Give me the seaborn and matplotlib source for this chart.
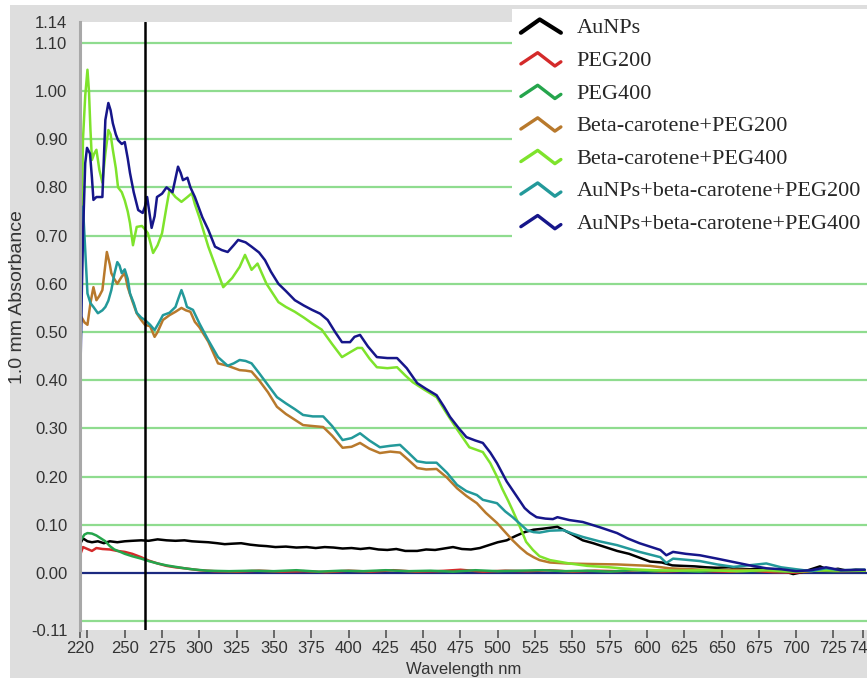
import numpy as np
import pandas as pd
import matplotlib
matplotlib.use("Agg")
import matplotlib.pyplot as plt
from matplotlib.lines import Line2D
from matplotlib.patches import Rectangle
from matplotlib.legend_handler import HandlerLine2D
import seaborn as sns

# ---------------- spectra (wavelength in nm, absorbance for 1.0 mm path) ----------------
aunps_wl = [220, 222, 225, 228, 232, 236, 240, 245, 250, 255, 261, 266, 272, 278, 284, 290, 295, 300,
            306, 312, 317, 322, 328, 334, 340, 345, 351, 358, 365, 372, 378, 384, 390, 396, 402, 408,
            414, 420, 426, 432, 438, 446, 452, 458, 464, 470, 476, 482, 488, 494, 500, 506, 512, 518,
            524, 530, 535, 540, 545, 550, 557, 564, 572, 580, 588, 595, 602, 610, 617, 624, 632, 640,
            647, 655, 662, 669, 676, 684, 692, 698, 704, 710, 716, 722, 728, 734, 740, 746]
aunps_abs = [0.060, 0.072, 0.066, 0.064, 0.066, 0.062, 0.066, 0.064, 0.066, 0.067, 0.068, 0.067, 0.070,
             0.068, 0.067, 0.068, 0.066, 0.065, 0.064, 0.062, 0.060, 0.061, 0.062, 0.059, 0.057, 0.056,
             0.054, 0.055, 0.053, 0.054, 0.052, 0.054, 0.053, 0.051, 0.052, 0.050, 0.052, 0.049, 0.048,
             0.050, 0.046, 0.046, 0.049, 0.048, 0.051, 0.054, 0.050, 0.049, 0.052, 0.058, 0.064, 0.068,
             0.077, 0.085, 0.090, 0.092, 0.094, 0.096, 0.088, 0.080, 0.068, 0.062, 0.054, 0.046, 0.040,
             0.032, 0.024, 0.022, 0.016, 0.015, 0.014, 0.012, 0.011, 0.012, 0.009, 0.008, 0.010, 0.006,
             0.004, -0.002, 0.002, 0.008, 0.014, 0.006, 0.009, 0.005, 0.007, 0.006]

peg200_wl = [220, 222, 225, 228, 231, 235, 240, 245, 250, 255, 261, 266, 272, 278, 284, 290, 295, 300,
             310, 325, 340, 355, 370, 385, 400, 415, 430, 445, 460, 475, 490, 505, 520, 535, 550, 565,
             580, 595, 610, 625, 640, 655, 670, 685, 700, 715, 730, 746]
peg200_abs = [0.037, 0.054, 0.050, 0.046, 0.052, 0.050, 0.049, 0.046, 0.044, 0.040, 0.033, 0.026, 0.020,
              0.015, 0.012, 0.010, 0.008, 0.006, 0.004, 0.003, 0.005, 0.003, 0.004, 0.002, 0.005, 0.003,
              0.006, 0.003, 0.004, 0.007, 0.003, 0.005, 0.004, 0.006, 0.003, 0.005, 0.004, 0.006, 0.003,
              0.005, 0.004, 0.003, 0.005, 0.002, 0.001, 0.006, 0.004, 0.005]

peg400_wl = [220, 223, 225, 228, 231, 234, 237, 240, 243, 247, 250, 255, 261, 266, 272, 278, 284, 290,
             295, 305, 320, 335, 350, 365, 380, 395, 410, 425, 440, 455, 470, 485, 500, 515, 530, 545,
             560, 575, 590, 605, 620, 635, 650, 665, 680, 695, 710, 725, 746]
peg400_abs = [0.066, 0.080, 0.083, 0.082, 0.078, 0.072, 0.066, 0.056, 0.049, 0.044, 0.040, 0.035, 0.030,
              0.025, 0.020, 0.016, 0.013, 0.010, 0.008, 0.005, 0.004, 0.005, 0.004, 0.006, 0.003, 0.005,
              0.004, 0.006, 0.004, 0.005, 0.003, 0.006, 0.004, 0.005, 0.006, 0.004, 0.005, 0.003, 0.006,
              0.004, 0.005, 0.003, 0.006, 0.004, 0.005, 0.003, 0.006, 0.004, 0.005]

bc200_wl = [220, 221, 223, 225, 227, 229, 231, 233, 235, 237, 238, 240, 241, 243, 245, 248, 250, 252,
            255, 258, 261, 263.5, 267, 270, 272, 275.6, 280, 284, 288, 291, 294, 297, 300, 306, 312.5,
            319, 327, 331, 335, 340, 346, 352, 358, 364, 369.5, 376, 383, 389, 396, 402, 407.7, 414,
            421, 428, 434.5, 440, 446, 452, 459, 466, 472.7, 479, 486, 492, 499.5, 505, 510, 515,
            519.6, 524, 528, 535, 546, 560, 580, 602, 615, 630, 645, 660, 680, 700, 720, 746]
bc200_abs = [0.50, 0.531, 0.52, 0.515, 0.56, 0.593, 0.566, 0.575, 0.587, 0.64, 0.666, 0.64, 0.622, 0.61,
             0.60, 0.615, 0.622, 0.593, 0.565, 0.539, 0.525, 0.515, 0.512, 0.49, 0.50, 0.525, 0.535,
             0.542, 0.55, 0.545, 0.542, 0.521, 0.51, 0.48, 0.435, 0.43, 0.421, 0.42, 0.418, 0.40, 0.375,
             0.345, 0.33, 0.318, 0.307, 0.305, 0.303, 0.285, 0.26, 0.262, 0.27, 0.258, 0.249, 0.252,
             0.25, 0.235, 0.218, 0.215, 0.216, 0.198, 0.176, 0.16, 0.145, 0.125, 0.104, 0.085, 0.068,
             0.053, 0.041, 0.033, 0.027, 0.022, 0.020, 0.019, 0.018, 0.015, 0.010, 0.008, 0.006, 0.007,
             0.005, 0.004, 0.006, 0.005]

bc400_wl = [220, 221, 222, 223.5, 225, 226, 227, 228, 229.5, 231, 233, 235, 237, 239, 240.5, 242, 244,
            245.5, 248, 250, 252, 253.5, 255.5, 258, 261.5, 263, 265.5, 269, 272, 275, 278, 280, 284,
            288, 292, 295, 297, 300, 306, 311, 316, 322, 327, 330.6, 335, 339, 345, 353, 358, 364, 370,
            375.5, 382, 389, 395.6, 401, 406, 409, 414, 419, 426, 432.5, 438, 443, 451, 459, 466, 473,
            481, 490, 495, 499.5, 503, 507, 510, 515, 519, 523.6, 528, 535, 548, 560, 575, 590, 605,
            620, 640, 660, 680, 700, 720, 746]
bc400_abs = [0.43, 0.70, 0.90, 0.99, 1.044, 1.00, 0.92, 0.857, 0.87, 0.878, 0.836, 0.81, 0.87, 0.919,
             0.91, 0.878, 0.84, 0.80, 0.79, 0.773, 0.75, 0.726, 0.68, 0.718, 0.72, 0.715, 0.705, 0.664,
             0.68, 0.705, 0.76, 0.795, 0.78, 0.77, 0.78, 0.788, 0.765, 0.738, 0.677, 0.635, 0.593, 0.612,
             0.635, 0.66, 0.629, 0.642, 0.60, 0.562, 0.552, 0.542, 0.53, 0.518, 0.505, 0.475, 0.448,
             0.458, 0.467, 0.467, 0.445, 0.427, 0.425, 0.427, 0.41, 0.396, 0.38, 0.365, 0.33, 0.297,
             0.261, 0.251, 0.228, 0.20, 0.175, 0.15, 0.13, 0.095, 0.065, 0.048, 0.035, 0.027, 0.020,
             0.015, 0.012, 0.008, 0.006, 0.005, 0.006, 0.004, 0.006, 0.003, 0.006, 0.005]

au_bc200_wl = [220, 221, 222, 223, 225, 227, 229, 232, 235, 237, 239, 241, 243, 245, 246.5, 248, 250,
               252, 253.5, 256, 258, 261, 263.5, 267, 270, 273, 275.6, 280, 284, 286, 288, 290, 291.7,
               295.7, 300, 306, 312.5, 319, 323, 327, 331, 335, 340, 346, 352, 358, 364, 369.5, 376,
               383, 389, 396, 402, 407.7, 414, 421, 428, 434.5, 440, 446, 452, 459, 466, 472.7, 479,
               486, 490, 499.5, 505, 510, 515, 519.6, 524, 528, 535, 544, 550, 557, 568, 580, 595, 609,
               613, 617.5, 625, 635.5, 647, 658, 668, 680, 690, 700, 710, 720, 730, 746]
au_bc200_abs = [0.365, 0.60, 0.76, 0.70, 0.58, 0.56, 0.552, 0.539, 0.545, 0.552, 0.565, 0.587, 0.62,
                0.645, 0.638, 0.622, 0.63, 0.61, 0.58, 0.56, 0.54, 0.53, 0.525, 0.515, 0.504, 0.52,
                0.535, 0.54, 0.552, 0.57, 0.587, 0.57, 0.552, 0.546, 0.518, 0.483, 0.448, 0.43, 0.435,
                0.442, 0.44, 0.435, 0.415, 0.39, 0.365, 0.352, 0.34, 0.328, 0.325, 0.325, 0.305, 0.276,
                0.28, 0.29, 0.275, 0.261, 0.264, 0.266, 0.25, 0.232, 0.229, 0.229, 0.208, 0.183, 0.17,
                0.162, 0.152, 0.145, 0.128, 0.116, 0.102, 0.089, 0.085, 0.084, 0.088, 0.089, 0.082,
                0.075, 0.066, 0.058, 0.044, 0.033, 0.021, 0.030, 0.028, 0.025, 0.018, 0.013, 0.016,
                0.020, 0.012, 0.008, 0.004, 0.010, 0.006, 0.007]

au_bc400_wl = [220, 221, 222, 223.5, 224.7, 226.7, 228, 229, 231, 233, 235, 237, 239, 240.5, 242, 244,
               245.5, 248, 250, 252, 253.5, 256, 259, 262, 263.5, 265, 268, 270, 271.6, 275, 278, 282,
               285.7, 287.5, 289, 292, 294, 297, 302, 306, 310.5, 315, 319, 323, 326, 331, 335, 340,
               344, 348, 353, 358, 364, 370, 375.5, 381, 386, 391, 395.6, 401, 404, 407.7, 413, 419,
               426, 432.5, 439, 446, 452, 459, 464, 468, 474, 479, 485, 490, 495, 499.5, 506, 513, 518,
               521.6, 526, 532, 537, 540, 548, 557, 568.5, 580, 587, 595, 602, 609, 613, 617.5, 626,
               635.5, 647, 658, 669, 680, 690, 700, 710, 720, 730, 746]
au_bc400_abs = [0.36, 0.55, 0.70, 0.85, 0.882, 0.87, 0.82, 0.774, 0.78, 0.78, 0.78, 0.94, 0.975, 0.96,
                0.933, 0.91, 0.898, 0.89, 0.894, 0.86, 0.83, 0.79, 0.753, 0.747, 0.76, 0.78, 0.716, 0.74,
                0.78, 0.787, 0.80, 0.79, 0.843, 0.83, 0.815, 0.82, 0.80, 0.78, 0.738, 0.712, 0.677,
                0.67, 0.666, 0.68, 0.691, 0.686, 0.677, 0.665, 0.649, 0.625, 0.60, 0.585, 0.566, 0.555,
                0.546, 0.538, 0.525, 0.50, 0.479, 0.479, 0.49, 0.494, 0.47, 0.448, 0.446, 0.446, 0.425,
                0.394, 0.382, 0.369, 0.345, 0.324, 0.30, 0.282, 0.275, 0.27, 0.25, 0.228, 0.19, 0.158,
                0.135, 0.125, 0.116, 0.113, 0.112, 0.116, 0.11, 0.106, 0.095, 0.083, 0.072, 0.062,
                0.055, 0.048, 0.037, 0.044, 0.040, 0.037, 0.030, 0.023, 0.016, 0.010, 0.008, 0.004,
                0.006, 0.012, 0.006, 0.007]

sample_names = ["AuNPs", "PEG200", "PEG400", "Beta-carotene+PEG200", "Beta-carotene+PEG400",
                "AuNPs+beta-carotene+PEG200", "AuNPs+beta-carotene+PEG400"]
sample_colors = ["#000000", "#d42a2a", "#25a54c", "#b8792c", "#7ee32c", "#23999a", "#16168a"]

spectra = [(aunps_wl, aunps_abs), (peg200_wl, peg200_abs), (peg400_wl, peg400_abs),
           (bc200_wl, bc200_abs), (bc400_wl, bc400_abs), (au_bc200_wl, au_bc200_abs),
           (au_bc400_wl, au_bc400_abs)]

x_ticks = [220, 225, 250, 275, 300, 325, 350, 375, 400, 425, 450, 475, 500, 525, 550, 575, 600, 625,
           650, 675, 700, 725, 745]
x_tick_labels = ["220", "", "250", "275", "300", "325", "350", "375", "400", "425", "450", "475",
                 "500", "525", "550", "575", "600", "625", "650", "675", "700", "725", "745"]
y_ticks = [0.00, 0.10, 0.20, 0.30, 0.40, 0.50, 0.60, 0.70, 0.80, 0.90, 1.00, 1.10]
y_min, y_max = -0.118, 1.143
x_min, x_max = 220, 747.5
cursor_nm = 263.5

frames = [pd.DataFrame({"wavelength": wl, "absorbance": ab, "sample": name})
          for name, (wl, ab) in zip(sample_names, spectra)]
df = pd.concat(frames, ignore_index=True)

# ---------------- figure ----------------
sns.set_style("white")
plt.rcParams["font.family"] = ["Liberation Sans", "DejaVu Sans"]

W, H = 867, 678
fig = plt.figure(figsize=(W / 100, H / 100), dpi=100, facecolor="white")
fig.patches.append(Rectangle((10 / W, 0), 1, 1 - 5 / H, transform=fig.transFigure,
                             facecolor="#dedede", edgecolor="none", zorder=-10))

ax_left, ax_top, ax_bottom = 80, 22, 630
ax = fig.add_axes([ax_left / W, 1 - ax_bottom / H, 1 - ax_left / W, (ax_bottom - ax_top) / H])
ax.set_facecolor("white")

# horizontal grid every 0.1 and zero baseline
for g in np.round(np.arange(-0.1, 1.101, 0.1), 2):
    if abs(g) < 1e-9:
        continue
    ax.axhline(g, color="#8fdc8f", lw=1.6, zorder=0)
ax.axhline(0.0, color="#1c2a80", lw=1.6, zorder=1)

sns.lineplot(data=df, x="wavelength", y="absorbance", hue="sample", hue_order=sample_names,
             palette=dict(zip(sample_names, sample_colors)), estimator=None, sort=False,
             linewidth=1.8, ax=ax, zorder=2)

ax.axvline(cursor_nm, color="black", lw=1.8, zorder=3)

ax.set_xlim(x_min, x_max)
ax.set_ylim(y_min, y_max)
ax.set_xticks(x_ticks)
ax.set_xticklabels(x_tick_labels)
ax.set_yticks([y_min] + y_ticks + [y_max])
ax.set_yticklabels(["-0.11"] + [f"{v:.2f}" for v in y_ticks] + ["1.14"])
ax.tick_params(axis="x", length=6, width=1.2, color="#555555", labelsize=12, labelcolor="#333333", pad=2,
               bottom=True)
ax.tick_params(axis="y", length=0, labelsize=12, labelcolor="#333333", pad=9, left=True)
ax.set_xlabel("")
ax.set_ylabel("")
for side in ["top", "right", "bottom"]:
    ax.spines[side].set_visible(False)
ax.spines["left"].set_color("#a8a8a8")
ax.spines["left"].set_linewidth(2.2)

fig.text(18 / W, 1 - 297 / H, "1.0 mm Absorbance", rotation=90, ha="center", va="center",
         fontsize=14, color="#333333")
fig.text(464 / W, 1 - 662 / H, "Wavelength nm", ha="center", va="top", fontsize=12, color="#333333")


# legend keys drawn as small zigzags
class ZigzagHandler(HandlerLine2D):
    def create_artists(self, legend, orig_handle, xdescent, ydescent, width, height, fontsize, trans):
        if orig_handle.get_label() == "AuNPs":
            fx, fy = [0.0, 0.47, 1.0], [0.05, 1.0, 0.05]
        else:
            fx, fy = [0.0, 0.42, 0.85, 1.0], [0.15, 0.95, 0.0, 0.3]
        xs = -xdescent + width * np.array(fx)
        ys = -ydescent + height * np.array(fy) * 0.9
        line = Line2D(xs, ys)
        self.update_prop(line, orig_handle, legend)
        line.set_linewidth(3.0 if orig_handle.get_label() == "AuNPs" else 2.4)
        line.set_transform(trans)
        return [line]


handles, labels = ax.get_legend_handles_labels()
ax.get_legend().remove()
leg = fig.legend(handles, labels, loc="upper left", bbox_to_anchor=(512 / W, 1 - 9 / H),
                 handler_map={Line2D: ZigzagHandler()}, prop={"family": "Liberation Serif", "size": 16},
                 frameon=True, fancybox=False, framealpha=1.0, facecolor="white", edgecolor="none",
                 handlelength=1.8, handleheight=0.7, handletextpad=0.7, labelspacing=0.54,
                 borderpad=0.4, borderaxespad=0.0)

fig.savefig("out.png", dpi=100, facecolor=fig.get_facecolor())
